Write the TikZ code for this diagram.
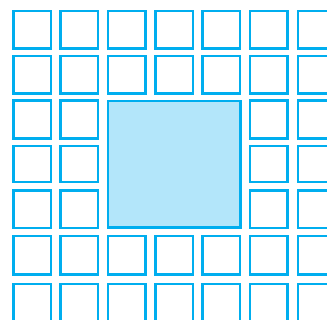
\documentclass[tikz,border=0pt]{standalone}
\definecolor{gridcyan}{RGB}{0,174,239}
\definecolor{gridfill}{RGB}{179,230,250}
\begin{document}
\begin{tikzpicture}[x=1pt,y=-1pt,
  cell/.style={draw=gridcyan,line width=2.5pt},
  bigcell/.style={draw=gridcyan,fill=gridfill,line width=2.5pt}]
\useasboundingbox (0,0) rectangle (327,320);
\clip (0,0) rectangle (327,320);
\foreach \c/\L in {1/12,2/59.3,3/106.7,4/154,5/201.3,6/248.7,7/296.5}{
  \foreach \r/\T/\H in {1/10/40,2/55/40,3/99.5/40.5,4/145/38.5,5/189.5/40,6/235/40.7,7/283/40}{
    \pgfmathparse{int((\c>2)&&(\c<6)&&(\r>2)&&(\r<6))}
    \ifnum\pgfmathresult=0
      \draw[cell] (\L+1.25,\T+1.25) rectangle (\L+38.75,\T+\H-1.25);
    \fi
  }
}
\draw[bigcell] (107.95,101.25) rectangle (240.45,227.75);
\end{tikzpicture}
\end{document}
